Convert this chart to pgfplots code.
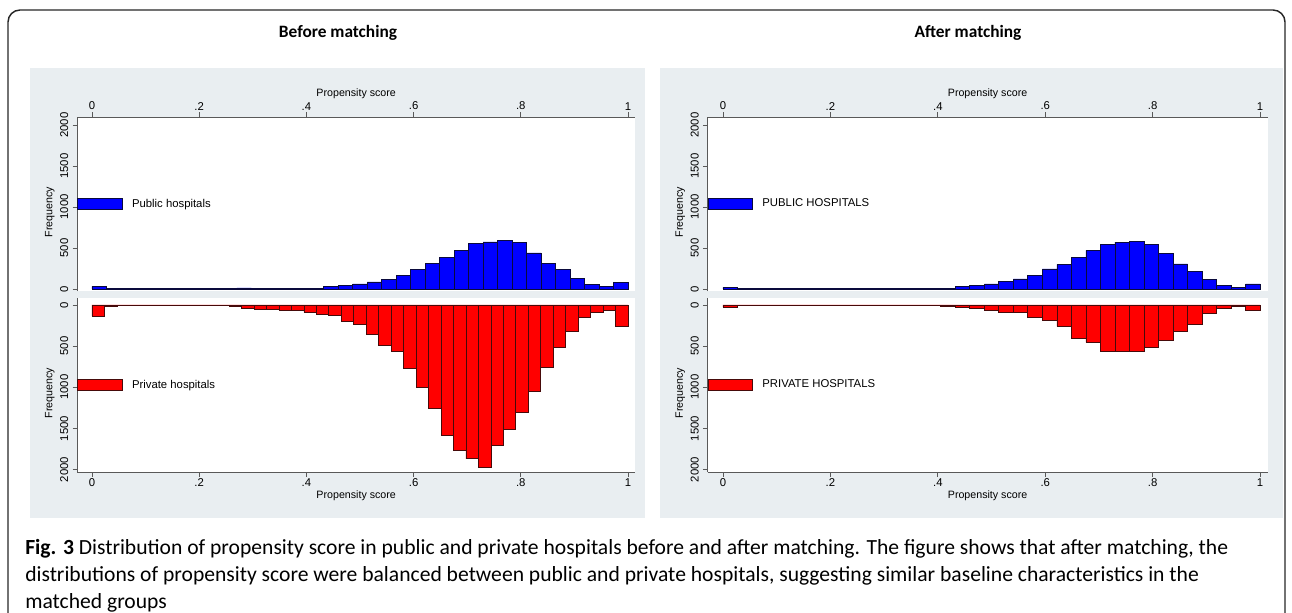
\documentclass[border=0pt]{standalone}
\usepackage{pgfplots}
\usepackage{pgfplotstable}
\pgfplotsset{compat=1.18}
\usepackage{fontspec}
\setmainfont{Liberation Sans}
\newfontfamily\capfont{Carlito}
\definecolor{panelbg}{RGB}{233,238,241}
\definecolor{bblue}{RGB}{0,0,255}
\definecolor{bred}{RGB}{255,0,0}
\definecolor{bblueedge}{RGB}{10,10,60}
\definecolor{brededge}{RGB}{70,10,10}

\pgfplotstableread{
x y
0 30
0.02703 3
0.05405 2
0.08108 2
0.10811 2
0.13514 2
0.16216 2
0.18919 5
0.21622 5
0.24324 3
0.27027 12
0.29730 5
0.32432 10
0.35135 10
0.37838 10
0.40541 10
0.43243 33
0.45946 45
0.48649 61
0.51351 85
0.54054 118
0.56757 167
0.59459 240
0.62162 309
0.64865 383
0.67568 468
0.70270 553
0.72973 574
0.75676 594
0.78378 570
0.81081 440
0.83784 315
0.86486 240
0.89189 130
0.91892 60
0.94595 30
0.97297 75
1 75
}\pubbefore

\pgfplotstableread{
x y
0 135
0.02326 20
0.04651 5
0.06977 8
0.09302 3
0.11628 3
0.13953 3
0.16279 3
0.18605 8
0.20930 5
0.23256 10
0.25581 15
0.27907 45
0.30233 50
0.32558 52
0.34884 62
0.37209 60
0.39535 90
0.41860 108
0.44186 130
0.46512 200
0.48837 232
0.51163 360
0.53488 488
0.55814 562
0.58140 770
0.60465 999
0.62791 1256
0.65116 1583
0.67442 1767
0.69767 1869
0.72093 1971
0.74419 1706
0.76744 1513
0.79070 1305
0.81395 1051
0.83721 760
0.86047 515
0.88372 323
0.90698 153
0.93023 89
0.95349 69
0.97674 255
1 255
}\privbefore

\pgfplotstableread{
x y
0 20
0.02703 2
0.05405 2
0.08108 2
0.10811 2
0.13514 2
0.16216 2
0.18919 2
0.21622 3
0.24324 3
0.27027 8
0.29730 3
0.32432 8
0.35135 5
0.37838 8
0.40541 8
0.43243 33
0.45946 45
0.48649 61
0.51351 95
0.54054 122
0.56757 160
0.59459 244
0.62162 301
0.64865 387
0.67568 472
0.70270 541
0.72973 570
0.75676 584
0.78378 541
0.81081 431
0.83784 305
0.86486 216
0.89189 114
0.91892 45
0.94595 20
0.97297 61
1 61
}\pubafter

\pgfplotstableread{
x y
0 25
0.02703 5
0.05405 5
0.08108 5
0.10811 5
0.13514 5
0.16216 5
0.18919 5
0.21622 5
0.24324 5
0.27027 3
0.29730 3
0.32432 3
0.35135 3
0.37838 3
0.40541 15
0.43243 25
0.45946 45
0.48649 62
0.51351 85
0.54054 85
0.56757 145
0.59459 187
0.62162 260
0.64865 400
0.67568 455
0.70270 568
0.72973 568
0.75676 568
0.78378 520
0.81081 432
0.83784 320
0.86486 232
0.89189 96
0.91892 40
0.94595 20
0.97297 60
1 60
}\privafter

\pgfplotsset{
  hist/.style={
    scale only axis,
    height=130.5pt,
    xtick={0,0.2,0.4,0.6,0.8,1},
    xticklabels={0,.2,.4,.6,.8,1},
    ytick={0,500,1000,1500,2000},
    yticklabels={0,500,1000,1500,2000},
    yticklabel style={rotate=90, anchor=south, inner sep=3pt, font=\fontsize{8.5}{10}\selectfont},
    xticklabel style={inner sep=1.5pt, font=\fontsize{8.5}{10}\selectfont},
    tick align=outside,
    major tick length=3.5pt,
    axis line style={black!65, line width=0.6pt},
    tick style={black!65, line width=0.6pt},
    axis background/.style={fill=white},
    xlabel={Propensity score},
    ylabel={Frequency},
    ylabel style={inner sep=1pt, xshift=-6pt},
    xlabel style={inner sep=1pt},
    label style={font=\fontsize{8}{9.5}\selectfont},
    clip=false,
    legend style={at={(0,0.5)}, anchor=west, draw=none, fill=none,
      inner sep=0pt, outer sep=0pt, nodes={inner sep=1pt},
      font=\fontsize{8.5}{10}\selectfont,
      /tikz/every odd column/.append style={column sep=6pt}},
    legend cell align=left,
    legend image code/.code={\draw[##1, line width=0.6pt] (0pt,-4pt) rectangle (33.5pt,4pt);},
  },
  upper/.style={hist, axis x line*=top, axis y line*=left, ymin=-25, ymax=2098},
  lower/.style={hist, axis x line*=bottom, axis y line*=left, y dir=reverse, ymin=-85, ymax=2030},
  leftp/.style={width=418.5pt, xmin=-0.0276, xmax=1.0134},
  rightp/.style={width=420pt, xmin=-0.0286, xmax=1.0139},
}

\begin{document}
\begin{tikzpicture}[font=\fontsize{8}{9.5}\selectfont]
\useasboundingbox (0,0) rectangle (969pt,-459.75pt);
\draw[line width=1.1pt, black!85, rounded corners=9pt] (6pt,-475pt) -- (6pt,-7.5pt) -- (963.75pt,-7.5pt) -- (963.75pt,-475pt);
\fill[panelbg] (22.5pt,-51pt) rectangle (483.75pt,-388.5pt);
\fill[panelbg] (495pt,-51pt) rectangle (962.25pt,-388.5pt);
\node[font=\capfont\bfseries\fontsize{13}{15}\selectfont] at (253.5pt,-24.5pt) {Before matching};
\node[font=\capfont\bfseries\fontsize{13}{15}\selectfont] at (726pt,-24.5pt) {After matching};

% Before matching, public
\begin{axis}[upper, leftp, at={(57.9pt,-218.25pt)}, anchor=south west]
\addplot[ybar interval, fill=bblue, draw=bblueedge, line width=0.55pt] table[x=x,y=y] {\pubbefore};
\addlegendentry{Public hospitals}
\end{axis}
% Before matching, private
\begin{axis}[lower, leftp, at={(57.9pt,-223.5pt)}, anchor=north west]
\addplot[ybar interval, fill=bred, draw=brededge, line width=0.55pt] table[x=x,y=y] {\privbefore};
\addlegendentry{Private hospitals}
\end{axis}
% After matching, public
\begin{axis}[upper, rightp, at={(530.7pt,-218.25pt)}, anchor=south west]
\addplot[ybar interval, fill=bblue, draw=bblueedge, line width=0.55pt] table[x=x,y=y] {\pubafter};
\addlegendentry{PUBLIC HOSPITALS}
\end{axis}
% After matching, private
\begin{axis}[lower, rightp, at={(530.7pt,-223.5pt)}, anchor=north west]
\addplot[ybar interval, fill=bred, draw=brededge, line width=0.55pt] table[x=x,y=y] {\privafter};
\addlegendentry{PRIVATE HOSPITALS}
\end{axis}

\node[anchor=north west, align=left, inner sep=0pt, font=\capfont\fontsize{16.2}{20.25}\selectfont] at (18.75pt,-404pt)
{{\bfseries Fig. 3} Distribution of propensity score in public and private hospitals before and after matching. The figure shows that after matching, the\\
distributions of propensity score were balanced between public and private hospitals, suggesting similar baseline characteristics in the\\
matched groups};
\end{tikzpicture}
\end{document}
